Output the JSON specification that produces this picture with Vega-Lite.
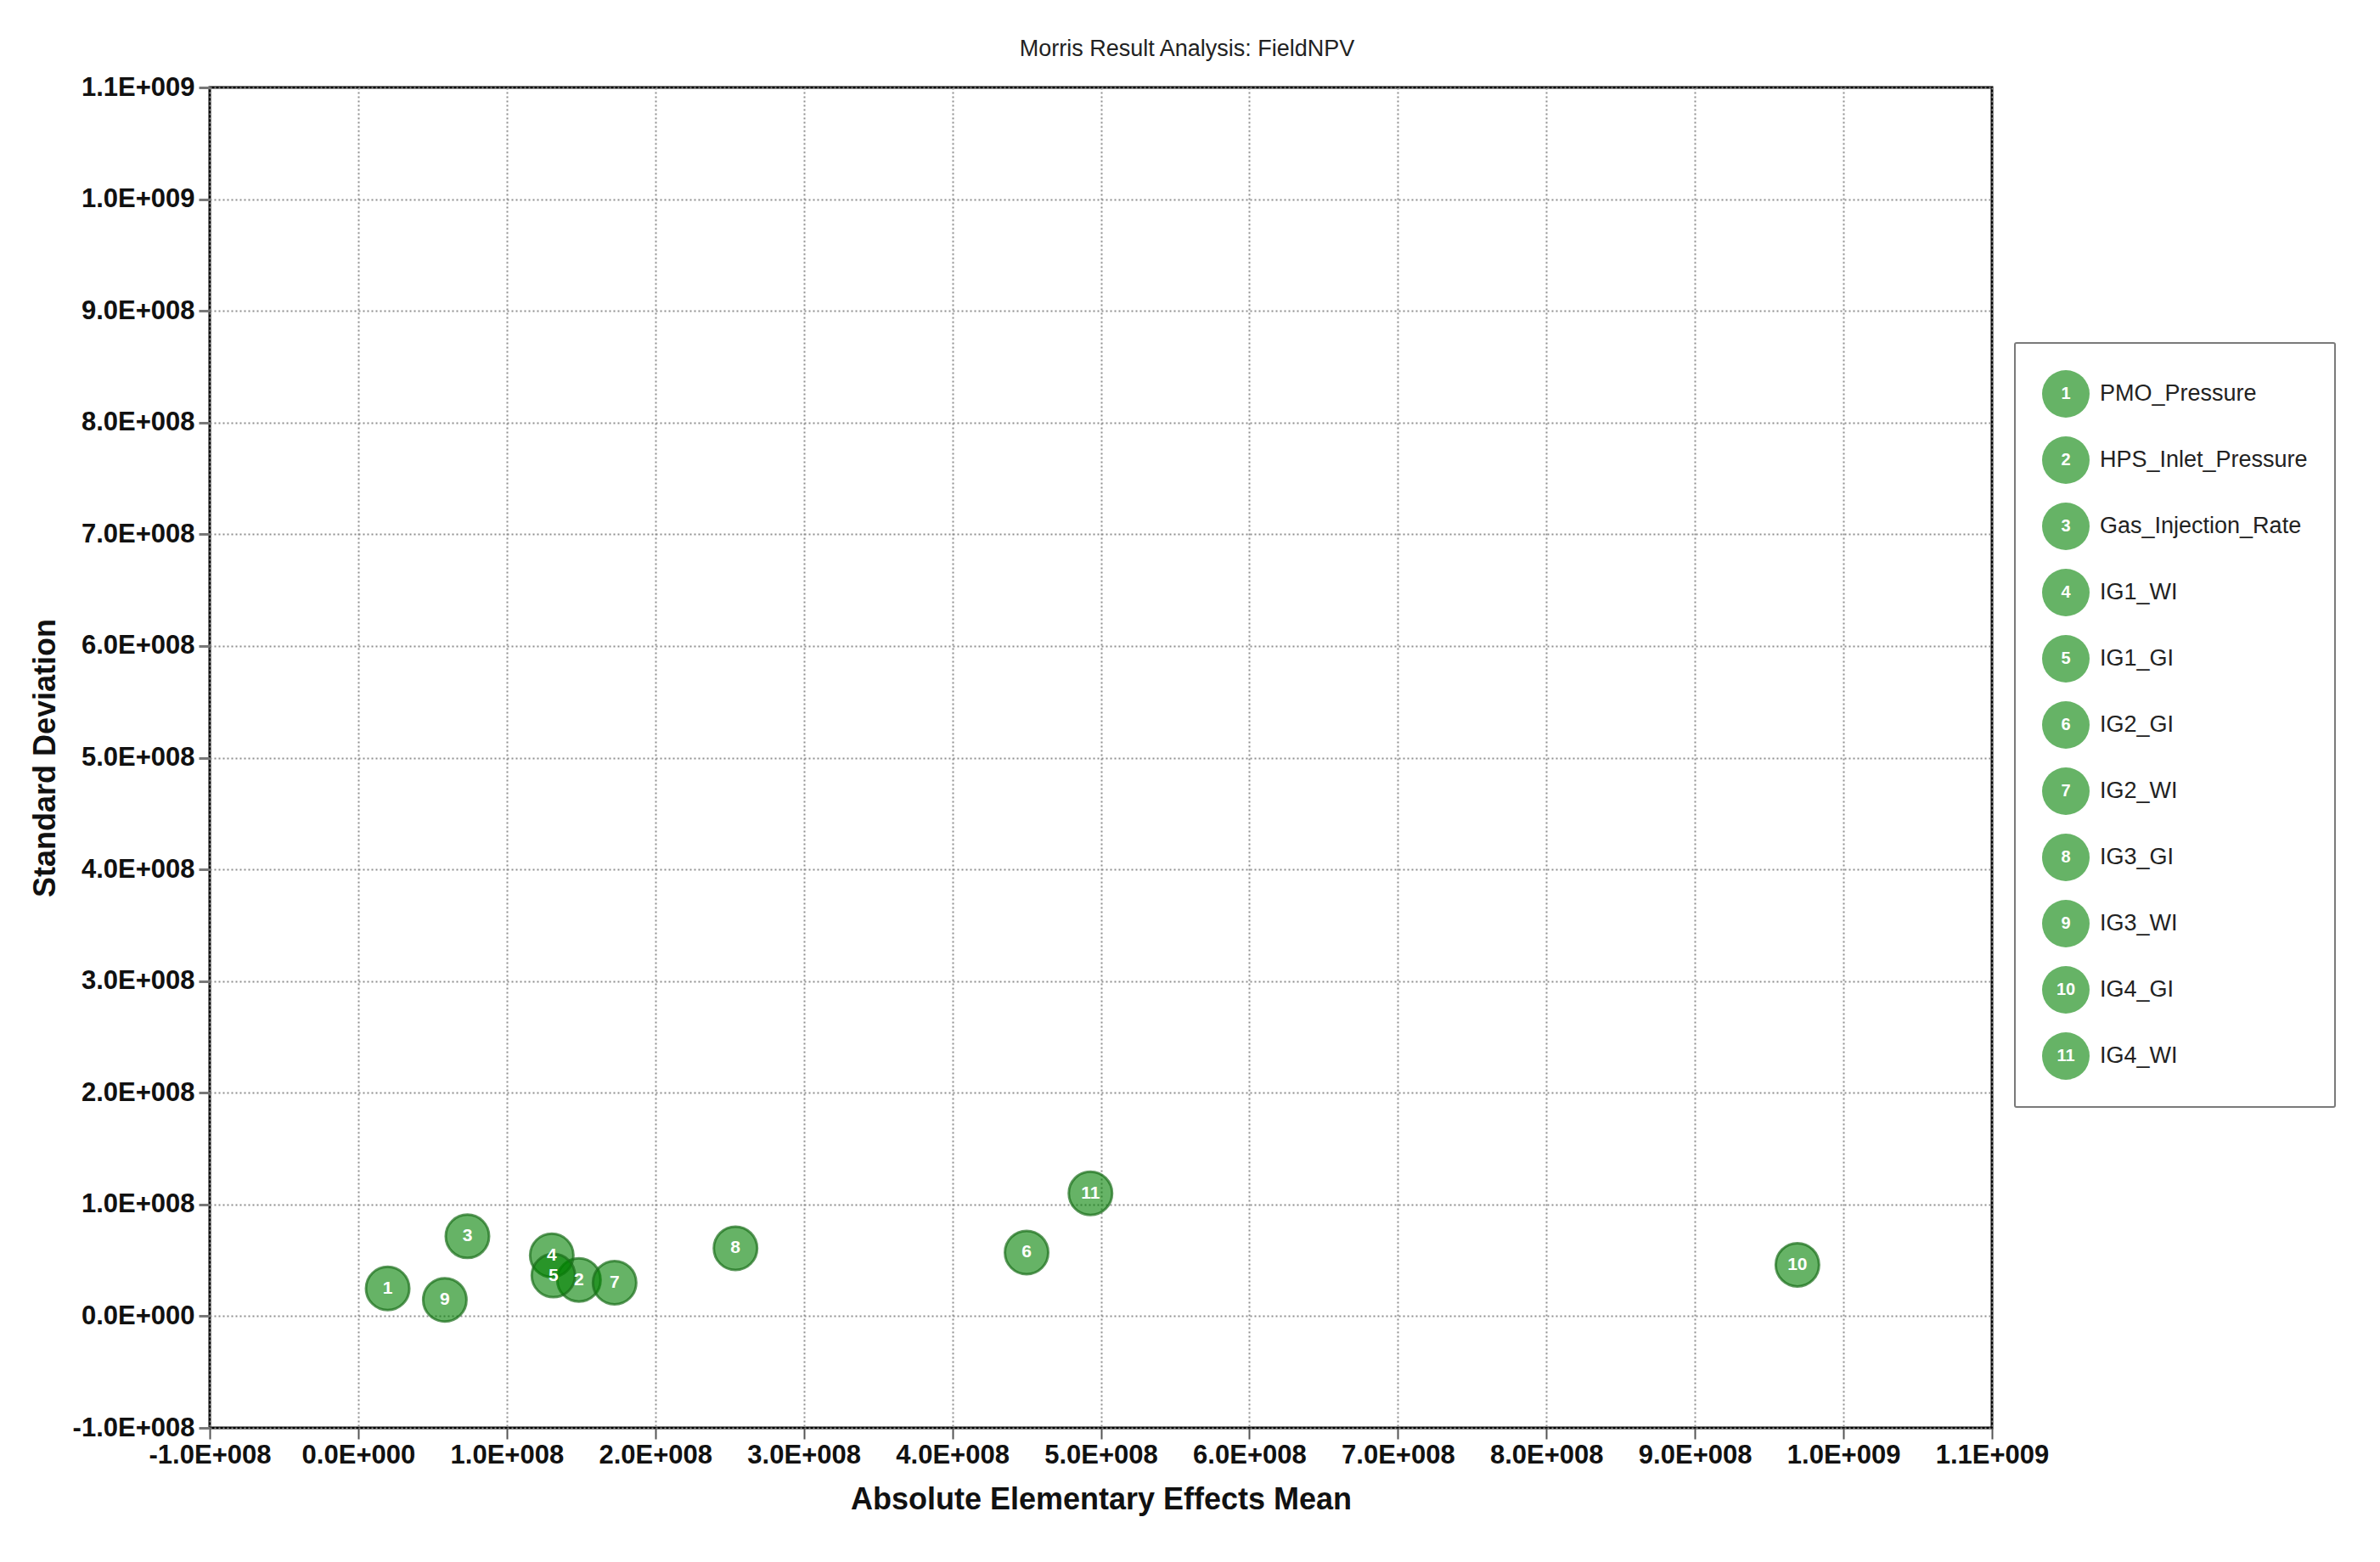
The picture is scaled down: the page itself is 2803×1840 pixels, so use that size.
{
  "$schema": "https://vega.github.io/schema/vega-lite/v6.json",
  "width": 2099,
  "height": 1579,
  "autosize": {"type": "none"},
  "padding": {"left": 247, "top": 103, "right": 457, "bottom": 158},
  "background": "white",
  "title": {
    "text": "Morris Result Analysis: FieldNPV",
    "font": "Liberation Sans",
    "fontSize": 27,
    "fontWeight": "normal",
    "color": "#222222",
    "anchor": "middle",
    "frame": "bounds",
    "offset": 15,
    "dx": 5
  },
  "data": {
    "values": [
      {"num": "1", "name": "PMO_Pressure", "mean": 19800000, "sd": 24800000},
      {"num": "2", "name": "HPS_Inlet_Pressure", "mean": 148600000, "sd": 32500000},
      {"num": "3", "name": "Gas_Injection_Rate", "mean": 73500000, "sd": 71500000},
      {"num": "4", "name": "IG1_WI", "mean": 130300000, "sd": 54400000},
      {"num": "5", "name": "IG1_GI", "mean": 131400000, "sd": 36400000},
      {"num": "6", "name": "IG2_GI", "mean": 450000000, "sd": 57000000},
      {"num": "7", "name": "IG2_WI", "mean": 172600000, "sd": 30000000},
      {"num": "8", "name": "IG3_GI", "mean": 254000000, "sd": 60800000},
      {"num": "9", "name": "IG3_WI", "mean": 58300000, "sd": 14600000},
      {"num": "10", "name": "IG4_GI", "mean": 969000000, "sd": 46000000},
      {"num": "11", "name": "IG4_WI", "mean": 493000000, "sd": 110000000}
    ]
  },
  "encoding": {
    "x": {
      "field": "mean",
      "type": "quantitative",
      "scale": {"domain": [-100000000, 1100000000], "nice": false, "zero": false},
      "axis": {
        "title": "Absolute Elementary Effects Mean",
        "values": [-100000000, 0, 100000000, 200000000, 300000000, 400000000, 500000000, 600000000, 700000000, 800000000, 900000000, 1000000000, 1100000000],
        "labelExpr": "datum.value == 0 ? '0.0E+000' : replace(format(datum.value / pow(10, floor(log(abs(datum.value)) / LN10 + 1e-9)), '.1f'), '\u2212', '-') + 'E+' + pad(toString(floor(log(abs(datum.value)) / LN10 + 1e-9)), 3, '0', 'left')",
        "labelFont": "Liberation Sans",
        "labelFontSize": 31,
        "labelFontWeight": "bold",
        "labelColor": "#111111",
        "labelPadding": 4,
        "labelOverlap": false,
        "labelFlush": false,
        "tickSize": 13,
        "tickColor": "#555555",
        "tickWidth": 2,
        "domain": false,
        "grid": true,
        "gridColor": "#8f8f8f",
        "gridDash": [2, 3],
        "gridWidth": 2,
        "titleFont": "Liberation Sans",
        "titleFontSize": 36,
        "titleFontWeight": "bold",
        "titleColor": "#111111",
        "titlePadding": 20
      }
    },
    "y": {
      "field": "sd",
      "type": "quantitative",
      "scale": {"domain": [-100000000, 1100000000], "nice": false, "zero": false},
      "axis": {
        "title": "Standard Deviation",
        "values": [-100000000, 0, 100000000, 200000000, 300000000, 400000000, 500000000, 600000000, 700000000, 800000000, 900000000, 1000000000, 1100000000],
        "labelExpr": "datum.value == 0 ? '0.0E+000' : replace(format(datum.value / pow(10, floor(log(abs(datum.value)) / LN10 + 1e-9)), '.1f'), '\u2212', '-') + 'E+' + pad(toString(floor(log(abs(datum.value)) / LN10 + 1e-9)), 3, '0', 'left')",
        "labelFont": "Liberation Sans",
        "labelFontSize": 31,
        "labelFontWeight": "bold",
        "labelColor": "#111111",
        "labelPadding": 5,
        "labelOverlap": false,
        "labelFlush": false,
        "tickSize": 13,
        "tickColor": "#777777",
        "tickWidth": 3,
        "domain": false,
        "grid": true,
        "gridColor": "#8f8f8f",
        "gridDash": [2, 3],
        "gridWidth": 2,
        "titleFont": "Liberation Sans",
        "titleFontSize": 36,
        "titleFontWeight": "bold",
        "titleColor": "#111111",
        "titlePadding": 13
      }
    }
  },
  "layer": [
    {
      "mark": {
        "type": "point",
        "filled": true,
        "size": 2600,
        "fillOpacity": 0.6,
        "stroke": "#1a6e1a",
        "strokeOpacity": 0.7,
        "strokeWidth": 3
      },
      "encoding": {
        "fill": {
          "field": "num",
          "type": "nominal",
          "scale": {
            "domain": ["1", "2", "3", "4", "5", "6", "7", "8", "9", "10", "11"],
            "range": ["#008000", "#008000", "#008000", "#008000", "#008000", "#008000", "#008000", "#008000", "#008000", "#008000", "#008000"]
          },
          "legend": {
            "orient": "none",
            "legendX": 2126,
            "legendY": 301,
            "direction": "vertical",
            "padding": 32,
            "title": null,
            "symbolType": "circle",
            "symbolSize": 3136,
            "symbolOpacity": 0.6,
            "symbolStrokeWidth": 0,
            "symbolStrokeColor": "transparent",
            "labelFont": "Liberation Sans",
            "labelFontSize": 20,
            "labelFontWeight": "bold",
            "labelColor": "white",
            "labelAlign": "center",
            "labelOffset": -28,
            "rowPadding": 22,
            "strokeColor": "transparent"
          }
        },
        "shape": {
          "field": "name",
          "type": "nominal",
          "scale": {
            "domain": ["PMO_Pressure", "HPS_Inlet_Pressure", "Gas_Injection_Rate", "IG1_WI", "IG1_GI", "IG2_GI", "IG2_WI", "IG3_GI", "IG3_WI", "IG4_GI", "IG4_WI"],
            "range": ["circle", "circle", "circle", "circle", "circle", "circle", "circle", "circle", "circle", "circle", "circle"]
          },
          "legend": {
            "orient": "none",
            "legendX": 2126,
            "legendY": 301,
            "direction": "vertical",
            "padding": 32,
            "title": null,
            "symbolSize": 3136,
            "symbolOpacity": 0,
            "symbolStrokeWidth": 0,
            "labelFont": "Liberation Sans",
            "labelFontSize": 27,
            "labelColor": "#222222",
            "labelOffset": 12,
            "labelLimit": 400,
            "rowPadding": 22,
            "strokeColor": "#7a7a7a",
            "cornerRadius": 2
          }
        }
      }
    },
    {
      "mark": {
        "type": "text",
        "color": "white",
        "font": "Liberation Sans",
        "fontWeight": "bold",
        "fontSize": 21,
        "align": "center",
        "baseline": "middle"
      },
      "encoding": {
        "text": {"field": "num", "type": "nominal"}
      }
    }
  ],
  "config": {
    "view": {"stroke": "black", "strokeWidth": 3},
    "font": "Liberation Sans",
    "legend": {"strokeWidth": 2}
  }
}
